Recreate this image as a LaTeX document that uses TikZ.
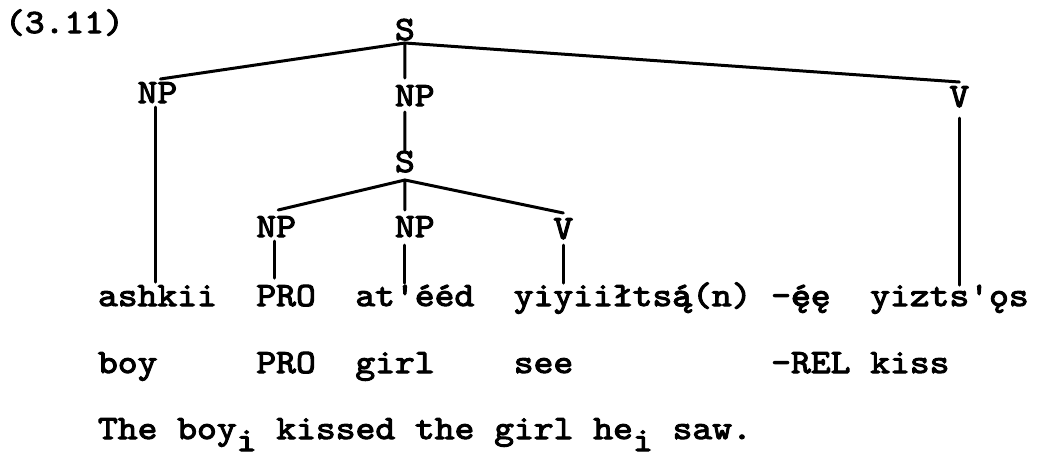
\documentclass[tikz,border=0pt]{standalone}
\usepackage{fontspec}
\newfontfamily\tw{lmmono10-regular.otf}[FakeBold=3, FakeStretch=1.11]
\newcommand\acog[2]{\rlap{#1}#2}
\tikzset{
  lab/.style={anchor=base west, inner sep=0pt, outer sep=0pt, font=\tw\fontsize{34}{34}\selectfont},
  br/.style={line width=3pt, line cap=round}
}
\begin{document}
\begin{tikzpicture}[x=1pt,y=-1pt]
\fill[white] (0,0) rectangle (1038,459);
\useasboundingbox (0,0) rectangle (1038,459);
% grid: x = 98 + 19.8*col
\node[lab] (num) at (5,33) {(3.11)};
\node[lab] (s1) at (395,40) {S};
\node[lab] (np1) at (137.6,103) {NP};
\node[lab] (np2) at (395,106) {NP};
\node[lab] (v1) at (949.4,107) {V};
\node[lab] (s2) at (395,172) {S};
\node[lab] (np3) at (256.4,237) {NP};
\node[lab] (np4) at (395,237) {NP};
\node[lab] (v2) at (553.4,239) {V};
% row 1
\node[lab] (w1) at (98,306) {ashkii};
\node[lab] (w2) at (256.4,306) {PRO};
\node[lab] (w3) at (355.4,306) {at'ééd};
\node[lab] (w4) at (513.8,306) {yiyiiłts\acog{ą}{á}(n)};
\node[lab] (w5) at (771.2,306) {-\acog{ę}{é}ę};
\node[lab] (w6) at (870.2,306) {yizts'ǫs};
% row 2
\node[lab] (g1) at (98,373) {boy};
\node[lab] (g2) at (256.4,373) {PRO};
\node[lab] (g3) at (355.4,373) {girl};
\node[lab] (g4) at (513.8,373) {see};
\node[lab] (g5) at (771.2,373) {-REL};
\node[lab] (g6) at (870.2,373) {kiss};
% row 3
\node[lab] (tr) at (98,439) {The boy\raisebox{-12pt}{i} kissed the girl he\raisebox{-12pt}{i} saw.};
% branches
\draw[br] ([yshift=-3pt]s1.base) -- ([xshift=3pt,yshift=24pt]np1.base);
\draw[br] ([yshift=-3pt]s1.base) -- ([xshift=-10pt,yshift=28pt]np2.base);
\draw[br] ([yshift=-3pt]s1.base) -- ([yshift=25pt]v1.base);
\draw[br] ([xshift=-2pt,yshift=-4pt]np1.base) -- ([xshift=-2pt,yshift=24pt]np1.base |- w1.base);
\draw[br] ([xshift=-10pt,yshift=-6pt]np2.base) -- ([yshift=22pt]s2.base);
\draw[br] ([yshift=-11pt]v1.base) -- ([yshift=21pt]v1.base |- w6.base);
\draw[br] ([yshift=-8pt]s2.base) -- ([xshift=2pt,yshift=27pt]np3.base);
\draw[br] ([yshift=-8pt]s2.base) -- ([xshift=-10pt,yshift=27pt]np4.base);
\draw[br] ([yshift=-8pt]s2.base) -- ([yshift=26pt]v2.base);
\draw[br] ([xshift=-2pt,yshift=-4pt]np3.base) -- ([xshift=-2pt,yshift=28pt]np3.base |- w2.base);
\draw[br] ([xshift=-10pt,yshift=-8pt]np4.base) -- ([xshift=-10pt,yshift=23pt]np4.base |- w3.base);
\draw[br] ([yshift=-6pt]v2.base) -- ([yshift=23pt]v2.base |- w4.base);
\end{tikzpicture}
\end{document}
